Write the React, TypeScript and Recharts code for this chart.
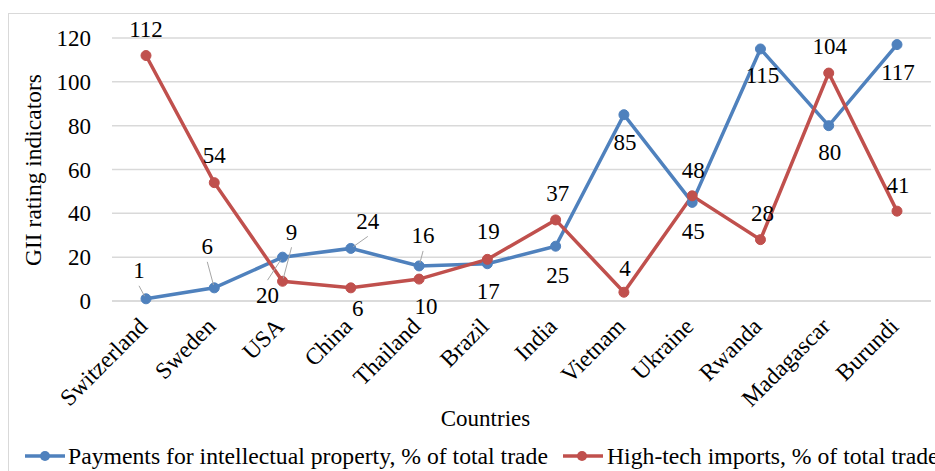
import { CartesianGrid, LabelList, Legend, Line, LineChart, XAxis, YAxis } from "recharts";

const countries = [
  "Switzerland",
  "Sweden",
  "USA",
  "China",
  "Thailand",
  "Brazil",
  "India",
  "Vietnam",
  "Ukraine",
  "Rwanda",
  "Madagascar",
  "Burundi",
];
const ipPayments = [1, 6, 20, 24, 16, 17, 25, 85, 45, 115, 80, 117];
const hightechImports = [112, 54, 9, 6, 10, 19, 37, 4, 48, 28, 104, 41];
const yTicks = [0, 20, 40, 60, 80, 100, 120];

const IP_NAME = "Payments for intellectual property, % of total trade";
const HT_NAME = "High-tech imports, % of total trade";

const BLUE = "#4F81BD";
const RED = "#C0504D";
const GRID = "#d9d9d9";
const FONT = "'Liberation Serif', 'Times New Roman', serif";

const chartData = countries.map((name, i) => ({
  name,
  ip: ipPayments[i],
  ht: hightechImports[i],
}));

// label offsets from the point centre: [dx, dy, leader line?]
type Place = [number, number, boolean];
const ipPlace: Place[] = [
  [-7, -28, true],
  [-7, -41, true],
  [-15, 38, true],
  [17, -27, true],
  [4, -30, true],
  [1, 28, false],
  [2, 29, false],
  [1, 28, false],
  [1, 29, false],
  [2, 27, false],
  [1, 27, false],
  [1, 28, false],
];
const htPlace: Place[] = [
  [0, -26, false],
  [0, -27, false],
  [9, -49, true],
  [7, 21, false],
  [7, 27, false],
  [1, -28, false],
  [2, -26, false],
  [1, -24, false],
  [1, -25, false],
  [2, -26, false],
  [1, -27, false],
  [1, -26, false],
];

const makeLabel = (places: Place[]) => (props: any) => {
  const { x, y, value, index } = props;
  const [dx, dy, leader] = places[index];
  const lx = x + dx;
  const ly = y + dy;
  let line = null;
  if (leader) {
    const sy = dy < 0 ? ly + 15 : ly - 15;
    const vx = lx - x;
    const vy = sy - y;
    const len = Math.sqrt(vx * vx + vy * vy) || 1;
    line = (
      <line
        x1={lx}
        y1={sy}
        x2={x + (vx / len) * 3}
        y2={y + (vy / len) * 3}
        stroke="#a6a6a6"
        strokeWidth={1}
      />
    );
  }
  return (
    <g>
      {line}
      <text
        x={lx}
        y={ly}
        textAnchor="middle"
        dominantBaseline="central"
        fontFamily={FONT}
        fontSize={23}
        fill="#000"
      >
        {value}
      </text>
    </g>
  );
};

const YTitle = () => (
  <text
    transform="translate(33 170) rotate(-90)"
    textAnchor="middle"
    dominantBaseline="central"
    fontFamily={FONT}
    fontSize={23.5}
    fill="#000"
  >
    GII rating indicators
  </text>
);

const LegendContent = () => (
  <svg width={935} height={30} style={{ display: "block" }}>
    <g>
      <line x1={25} y1={15} x2={65} y2={15} stroke={BLUE} strokeWidth={3.5} />
      <circle cx={45} cy={15} r={5} fill={BLUE} />
      <text x={68} y={15} dominantBaseline="central" fontFamily={FONT} fontSize={23.7} fill="#000">
        {IP_NAME}
      </text>
    </g>
    <g>
      <line x1={563} y1={15} x2={603} y2={15} stroke={RED} strokeWidth={3.5} />
      <circle cx={582} cy={15} r={5} fill={RED} />
      <text x={607} y={15} dominantBaseline="central" fontFamily={FONT} fontSize={23.7} fill="#000">
        {HT_NAME}
      </text>
    </g>
  </svg>
);

export default function App() {
  return (
    <div
      style={{
        position: "fixed",
        left: 0,
        top: 0,
        width: 935,
        height: 471,
        overflow: "hidden",
        background: "#fff",
      }}
    >
      <div
        style={{
          position: "absolute",
          left: 8,
          top: 13,
          width: 960,
          height: 500,
          border: `1px solid ${GRID}`,
        }}
      />
      <div style={{ position: "absolute", left: 0, top: 0 }}>
        <LineChart
          width={935}
          height={471}
          data={chartData}
          margin={{ top: 38, right: 4, left: 0, bottom: 0 }}
        >
          <CartesianGrid vertical={false} stroke={GRID} strokeWidth={1.5} />
          <XAxis
            dataKey="name"
            interval={0}
            padding={{ left: 34, right: 34 }}
            axisLine={{ stroke: GRID, strokeWidth: 1.5 }}
            tickLine={false}
            height={140}
            tick={{ fontFamily: FONT, fontSize: 23.5, fill: "#000", dx: -9, dy: 3 }}
            angle={-45}
            textAnchor="end"
            tickMargin={6}
            label={{
              value: "Countries",
              position: "insideBottom",
              offset: 15,
              dx: -36,
              style: { fontFamily: FONT, fontSize: 23, fill: "#000" },
            }}
          />
          <YAxis
            width={112}
            domain={[0, 120]}
            ticks={yTicks}
            axisLine={false}
            tickLine={false}
            tickSize={0}
            tickMargin={21}
            tick={{ fontFamily: FONT, fontSize: 23, fill: "#000" }}
            label={{ content: () => <YTitle /> }}
          />
          <Legend
            verticalAlign="bottom"
            height={30}
            content={() => <LegendContent />}
            wrapperStyle={{ left: 0, width: 935 }}
          />
          <Line
            dataKey="ip"
            name={IP_NAME}
            stroke={BLUE}
            strokeWidth={3.5}
            dot={{ r: 5, fill: BLUE, stroke: BLUE, strokeWidth: 1 }}
            activeDot={false}
            isAnimationActive={false}
          >
            <LabelList dataKey="ip" content={makeLabel(ipPlace)} />
          </Line>
          <Line
            dataKey="ht"
            name={HT_NAME}
            stroke={RED}
            strokeWidth={3.5}
            dot={{ r: 5, fill: RED, stroke: RED, strokeWidth: 1 }}
            activeDot={false}
            isAnimationActive={false}
          >
            <LabelList dataKey="ht" content={makeLabel(htPlace)} />
          </Line>
        </LineChart>
      </div>
    </div>
  );
}
